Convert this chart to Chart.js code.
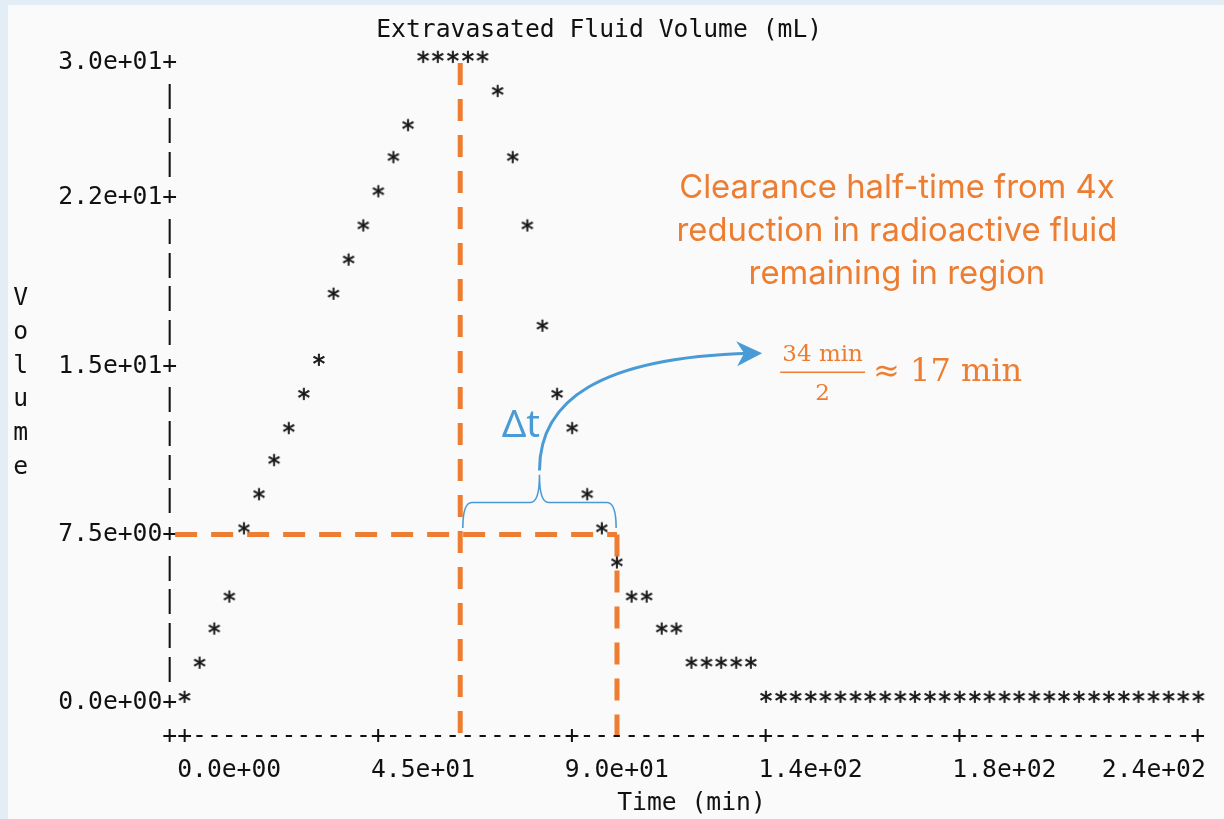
<!DOCTYPE html>
<html>
<head>
<meta charset="utf-8">
<title>Extravasated Fluid Volume</title>
<script src="https://cdn.jsdelivr.net/npm/chart.js@4.4.1/dist/chart.umd.min.js"></script>
<style>
  html, body { margin: 0; padding: 0; background: #fafafa; }
  canvas { display: block; }
</style>
</head>
<body>
<canvas id="fluidChart" width="1224" height="819"></canvas>
<script>
const chartTitle = "Extravasated Fluid Volume (mL)";
const xTitle = "Time (min)";
const yTitle = "Volume";

// one sample per text column of the plot
const times = [
    0.0, 3.5, 6.9, 10.4, 13.8, 17.3, 20.8, 24.2, 27.7, 31.2,
    34.6, 38.1, 41.5, 45.0, 48.5, 51.9, 55.4, 58.8, 62.3, 65.8,
    69.2, 72.7, 76.2, 79.6, 83.1, 86.5, 90.0, 93.5, 96.9, 100.4,
    103.8, 107.3, 110.8, 114.2, 117.7, 121.2, 124.6, 128.1, 131.5, 135.0,
    138.5, 141.9, 145.4, 148.8, 152.3, 155.8, 159.2, 162.7, 166.2, 169.6,
    173.1, 176.5, 180.0, 183.5, 186.9, 190.4, 193.8, 197.3, 200.8, 204.2,
    207.7, 211.2, 214.6, 218.1, 221.5, 225.0, 228.5, 231.9, 235.4
];
const volumes = [
    0.0, 1.6, 3.2, 4.7, 7.9, 9.5, 11.1, 12.6, 14.2, 15.8,
    18.9, 20.5, 22.1, 23.7, 25.3, 26.8, 30.0, 30.0, 30.0, 30.0,
    30.0, 28.4, 25.3, 22.1, 17.4, 14.2, 12.6, 9.5, 7.9, 6.3,
    4.7, 4.7, 3.2, 3.2, 1.6, 1.6, 1.6, 1.6, 1.6, 0.0,
    0.0, 0.0, 0.0, 0.0, 0.0, 0.0, 0.0, 0.0, 0.0, 0.0,
    0.0, 0.0, 0.0, 0.0, 0.0, 0.0, 0.0, 0.0, 0.0, 0.0,
    0.0, 0.0, 0.0, 0.0, 0.0, 0.0, 0.0, 0.0, 0.0
];

const xTickValues = [0, 45, 90, 135, 180, 235.4];
const xTickLabels = ["0.0e+00", "4.5e+01", "9.0e+01", "1.4e+02", "1.8e+02", "2.4e+02"];
// the text plot puts its labels on the nearest row
const yTickValues = [0, 7.9, 15.8, 23.7, 30];
const yTickLabels = ["0.0e+00", "7.5e+00", "1.5e+01", "2.2e+01", "3.0e+01"];

// hand drawn notes on top
const peakTime = 64;
const halfTime = 100.4;
const halfVolume = 7.9;
const noteLines = ["Clearance half-time from 4x", "reduction in radioactive fluid", "remaining in region"];
const fracTop = "34 min";
const fracBottom = "2";
const fracResult = "\u2248 17 min";
const deltaLabel = "\u0394t";

const MONO = '"DejaVu Sans Mono", monospace';
const FS = 24.7;
const CH = 14.9;
const ROWS = 19;
const INK = "#111111";
const ORANGE = "#ed7d31";
const BLUE = "#4a9bd5";

function makeStar() {
    const c = document.createElement("canvas");
    c.width = 16;
    c.height = 34;
    const g = c.getContext("2d");
    g.font = FS + "px " + MONO;
    g.fillStyle = INK;
    g.strokeStyle = INK;
    g.lineWidth = 0.7;
    g.textAlign = "center";
    g.textBaseline = "middle";
    g.fillText("*", 8, 17);
    g.strokeText("*", 8, 17);
    return c;
}

const textPlot = {
    id: "textPlot",
    beforeDraw(chart) {
        const ctx = chart.ctx;
        ctx.save();
        ctx.fillStyle = "#e3edf6";
        ctx.fillRect(0, 0, chart.width, chart.height);
        ctx.fillStyle = "#fafafa";
        ctx.fillRect(8, 5, chart.width - 8, chart.height - 5);
        ctx.restore();
    },
    beforeDatasetsDraw(chart) {
        const ctx = chart.ctx, xs = chart.scales.x, ys = chart.scales.y;
        const rowH = (ys.bottom - ys.top) / ROWS;
        const axisY = ys.bottom + rowH;
        ctx.save();
        ctx.strokeStyle = ORANGE;
        ctx.lineWidth = 5;
        ctx.setLineDash([22, 14]);
        ctx.beginPath();
        ctx.moveTo(xs.getPixelForValue(peakTime), ys.getPixelForValue(30));
        ctx.lineTo(xs.getPixelForValue(peakTime), axisY);
        ctx.stroke();
        ctx.beginPath();
        ctx.moveTo(xs.getPixelForValue(-2.2), ys.getPixelForValue(halfVolume));
        ctx.lineTo(xs.getPixelForValue(halfTime), ys.getPixelForValue(halfVolume));
        ctx.stroke();
        ctx.beginPath();
        ctx.moveTo(xs.getPixelForValue(halfTime), ys.getPixelForValue(halfVolume));
        ctx.lineTo(xs.getPixelForValue(halfTime), axisY);
        ctx.stroke();
        ctx.restore();
    },
    afterDraw(chart) {
        const ctx = chart.ctx, xs = chart.scales.x, ys = chart.scales.y;
        const X = v => xs.getPixelForValue(v);
        const Y = v => ys.getPixelForValue(v);
        const rowH = (ys.bottom - ys.top) / ROWS;
        const axisY = ys.bottom + rowH, labelY = ys.bottom + 2 * rowH;
        ctx.save();

        // text axis: ++-----+-----+
        ctx.font = FS + "px " + MONO;
        ctx.fillStyle = INK;
        ctx.textBaseline = "middle";
        ctx.textAlign = "center";
        const tickPx = xs.ticks.map(t => xs.getPixelForValue(t.value));
        for (let x = xs.left - CH; x <= xs.right + 1; x += CH) {
            const isTick = x < xs.left - 1 || tickPx.some(p => Math.abs(p - x) < CH / 2);
            ctx.fillText(isTick ? "+" : "-", x, axisY);
        }
        tickPx.forEach((p, i) => {
            const last = i === tickPx.length - 1;
            ctx.textAlign = last ? "right" : "left";
            ctx.fillText(xTickLabels[i], last ? p + CH / 2 : p - CH / 2, labelY);
        });
        ctx.textAlign = "center";
        [...yTitle].forEach((ch, i) => ctx.fillText(ch, xs.left - 11 * CH, ys.top + (7 + i) * rowH));

        // brace under the half-time
        ctx.strokeStyle = BLUE;
        ctx.fillStyle = BLUE;
        ctx.lineWidth = 1.6;
        const a = X(64.6), b = X(100.2), m = X(82.4);
        const foot = Y(8.2), bar = Y(9.4), tip = Y(10.7);
        ctx.beginPath();
        ctx.moveTo(a, foot);
        ctx.quadraticCurveTo(a, bar, a + 9, bar);
        ctx.lineTo(m - 9, bar);
        ctx.quadraticCurveTo(m, bar, m, tip);
        ctx.quadraticCurveTo(m, bar, m + 9, bar);
        ctx.lineTo(b - 9, bar);
        ctx.quadraticCurveTo(b, bar, b, foot);
        ctx.stroke();

        // curved arrow
        ctx.lineWidth = 3;
        ctx.beginPath();
        ctx.moveTo(m, Y(10.9));
        ctx.bezierCurveTo(m, Y(14.2), X(96.5), Y(16.2), X(131.3), Y(16.4));
        ctx.stroke();
        const hx = X(134.1), hy = Y(16.4);
        ctx.beginPath();
        ctx.moveTo(hx, hy);
        ctx.lineTo(hx - 26, hy - 12);
        ctx.lineTo(hx - 18, hy);
        ctx.lineTo(hx - 25, hy + 13);
        ctx.closePath();
        ctx.fill();

        ctx.font = '38px "Noto Sans", sans-serif';
        ctx.fillText(deltaLabel, X(78.1), Y(13.0));

        // orange note
        ctx.fillStyle = ORANGE;
        ctx.strokeStyle = ORANGE;
        ctx.font = '30px Inter, sans-serif';
        const fit = 30 * 441 / ctx.measureText(noteLines[1]).width;
        ctx.font = fit.toFixed(1) + 'px Inter, sans-serif';
        noteLines.forEach((line, i) => ctx.fillText(line, X(165.4), Y(24.15) + i * 43));

        const f0 = X(138.3), f1 = X(158.0), fy = Y(15.5);
        ctx.lineWidth = 1.5;
        ctx.beginPath();
        ctx.moveTo(f0, fy);
        ctx.lineTo(f1, fy);
        ctx.stroke();
        ctx.font = '23px "DejaVu Serif", serif';
        ctx.fillText(fracTop, (f0 + f1) / 2, fy - 17);
        ctx.fillText(fracBottom, (f0 + f1) / 2, fy + 22);
        ctx.font = '32px "DejaVu Serif", serif';
        ctx.textAlign = "left";
        ctx.fillText(fracResult, f1 + 8, fy);
        ctx.restore();
    }
};

new Chart(document.getElementById("fluidChart"), {
    type: "scatter",
    data: {
        datasets: [{
            data: times.map((t, i) => ({ x: t, y: volumes[i] })),
            pointStyle: makeStar(),
            pointRadius: 6,
            pointHoverRadius: 6,
            showLine: false,
            clip: false
        }]
    },
    options: {
        responsive: false,
        animation: false,
        events: [],
        layout: { padding: { left: 0, right: 25.6, top: 0, bottom: 0 } },
        plugins: {
            legend: { display: false },
            tooltip: { enabled: false },
            title: {
                display: true,
                text: chartTitle,
                color: INK,
                font: { family: MONO, size: FS, weight: "normal" },
                padding: { top: 15.5, bottom: 17.9 }
            }
        },
        scales: {
            x: {
                type: "linear",
                min: 0,
                max: 235.4,
                grid: { display: false, drawTicks: false },
                border: { display: false },
                ticks: { display: false },
                afterBuildTicks: s => { s.ticks = xTickValues.map(v => ({ value: v })); },
                afterFit: s => { s.height = 116; },
                title: {
                    display: true,
                    text: xTitle,
                    color: INK,
                    font: { family: MONO, size: FS, weight: "normal" },
                    padding: { top: 0, bottom: 1 }
                }
            },
            y: {
                min: 0,
                max: 30,
                grid: { display: false, drawTicks: false },
                border: { display: false },
                afterBuildTicks: s => {
                    s.ticks = Array.from({ length: ROWS + 1 }, (_, r) => ({ value: 30 * r / ROWS }));
                },
                ticks: {
                    autoSkip: false,
                    padding: 7.4,
                    color: INK,
                    font: { family: MONO, size: FS },
                    callback: v => {
                        const k = yTickValues.findIndex(t => Math.abs(t - v) < 0.1);
                        return k < 0 ? "|" : yTickLabels[k] + "+";
                    }
                },
                afterFit: s => { s.width = 184.6; }
            }
        }
    },
    plugins: [textPlot]
});
</script>
</body>
</html>
